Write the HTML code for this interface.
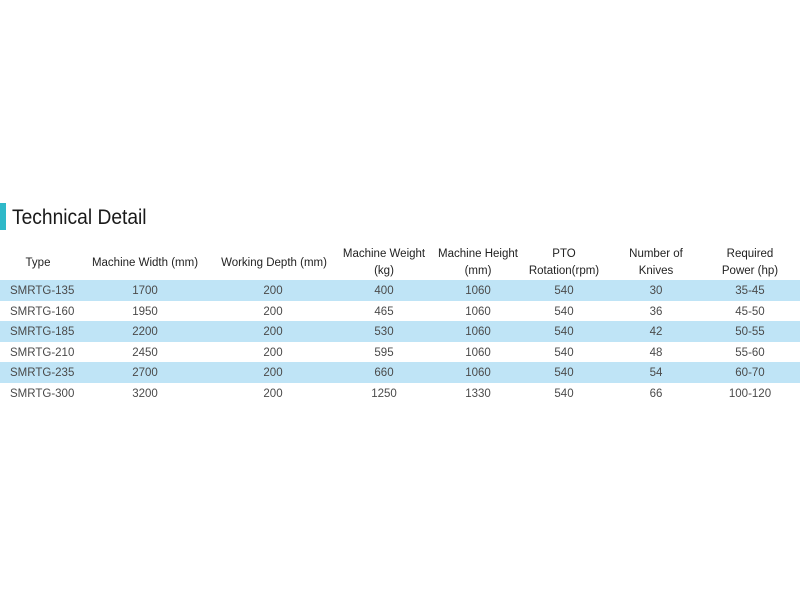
<!DOCTYPE html>
<html>
<head>
<meta charset="utf-8">
<style>
html,body{margin:0;padding:0;background:#fff;}
body{width:800px;height:600px;position:relative;overflow:hidden;font-family:"Liberation Sans",sans-serif;}
.bar{position:absolute;left:0;top:203px;width:6px;height:27px;background:#2fb9c9;}
.title{position:absolute;left:12px;top:204px;font-size:21px;line-height:27px;color:#1a1a1a;transform:scaleX(0.915);transform-origin:0 0;white-space:nowrap;}
.stripe{position:absolute;left:0;width:800px;height:21px;background:#bfe4f6;}
.h{position:absolute;font-size:11.5px;line-height:17px;color:#222;text-align:center;white-space:nowrap;transform:translateX(-50%);}
.c{position:absolute;font-size:11.5px;line-height:20px;color:#4a4a4a;text-align:center;white-space:nowrap;transform:translateX(-50%);}
.l{position:absolute;left:10px;font-size:11.5px;line-height:20px;color:#4a4a4a;white-space:nowrap;}
</style>
</head>
<body>
<div class="bar"></div>
<div class="title">Technical Detail</div>

<div class="h" style="left:38px;top:255px;">Type</div>
<div class="h" style="left:145px;top:255px;">Machine Width (mm)</div>
<div class="h" style="left:274px;top:255px;">Working Depth (mm)</div>
<div class="h" style="left:384px;top:246px;">Machine Weight<br>(kg)</div>
<div class="h" style="left:478px;top:246px;">Machine Height<br>(mm)</div>
<div class="h" style="left:564px;top:246px;">PTO<br>Rotation(rpm)</div>
<div class="h" style="left:656px;top:246px;">Number of<br>Knives</div>
<div class="h" style="left:750px;top:246px;">Required<br>Power (hp)</div>

<div class="stripe" style="top:280px;"></div>
<div class="stripe" style="top:321px;"></div>
<div class="stripe" style="top:362px;"></div>

<!-- row 1 -->
<div class="l" style="top:281px;">SMRTG-135</div>
<div class="c" style="left:145px;top:281px;">1700</div>
<div class="c" style="left:273px;top:281px;">200</div>
<div class="c" style="left:384px;top:281px;">400</div>
<div class="c" style="left:478px;top:281px;">1060</div>
<div class="c" style="left:564px;top:281px;">540</div>
<div class="c" style="left:656px;top:281px;">30</div>
<div class="c" style="left:750px;top:281px;">35-45</div>
<!-- row 2 -->
<div class="l" style="top:302px;">SMRTG-160</div>
<div class="c" style="left:145px;top:302px;">1950</div>
<div class="c" style="left:273px;top:302px;">200</div>
<div class="c" style="left:384px;top:302px;">465</div>
<div class="c" style="left:478px;top:302px;">1060</div>
<div class="c" style="left:564px;top:302px;">540</div>
<div class="c" style="left:656px;top:302px;">36</div>
<div class="c" style="left:750px;top:302px;">45-50</div>
<!-- row 3 -->
<div class="l" style="top:322px;">SMRTG-185</div>
<div class="c" style="left:145px;top:322px;">2200</div>
<div class="c" style="left:273px;top:322px;">200</div>
<div class="c" style="left:384px;top:322px;">530</div>
<div class="c" style="left:478px;top:322px;">1060</div>
<div class="c" style="left:564px;top:322px;">540</div>
<div class="c" style="left:656px;top:322px;">42</div>
<div class="c" style="left:750px;top:322px;">50-55</div>
<!-- row 4 -->
<div class="l" style="top:343px;">SMRTG-210</div>
<div class="c" style="left:145px;top:343px;">2450</div>
<div class="c" style="left:273px;top:343px;">200</div>
<div class="c" style="left:384px;top:343px;">595</div>
<div class="c" style="left:478px;top:343px;">1060</div>
<div class="c" style="left:564px;top:343px;">540</div>
<div class="c" style="left:656px;top:343px;">48</div>
<div class="c" style="left:750px;top:343px;">55-60</div>
<!-- row 5 -->
<div class="l" style="top:363px;">SMRTG-235</div>
<div class="c" style="left:145px;top:363px;">2700</div>
<div class="c" style="left:273px;top:363px;">200</div>
<div class="c" style="left:384px;top:363px;">660</div>
<div class="c" style="left:478px;top:363px;">1060</div>
<div class="c" style="left:564px;top:363px;">540</div>
<div class="c" style="left:656px;top:363px;">54</div>
<div class="c" style="left:750px;top:363px;">60-70</div>
<!-- row 6 -->
<div class="l" style="top:384px;">SMRTG-300</div>
<div class="c" style="left:145px;top:384px;">3200</div>
<div class="c" style="left:273px;top:384px;">200</div>
<div class="c" style="left:384px;top:384px;">1250</div>
<div class="c" style="left:478px;top:384px;">1330</div>
<div class="c" style="left:564px;top:384px;">540</div>
<div class="c" style="left:656px;top:384px;">66</div>
<div class="c" style="left:750px;top:384px;">100-120</div>
</body>
</html>
